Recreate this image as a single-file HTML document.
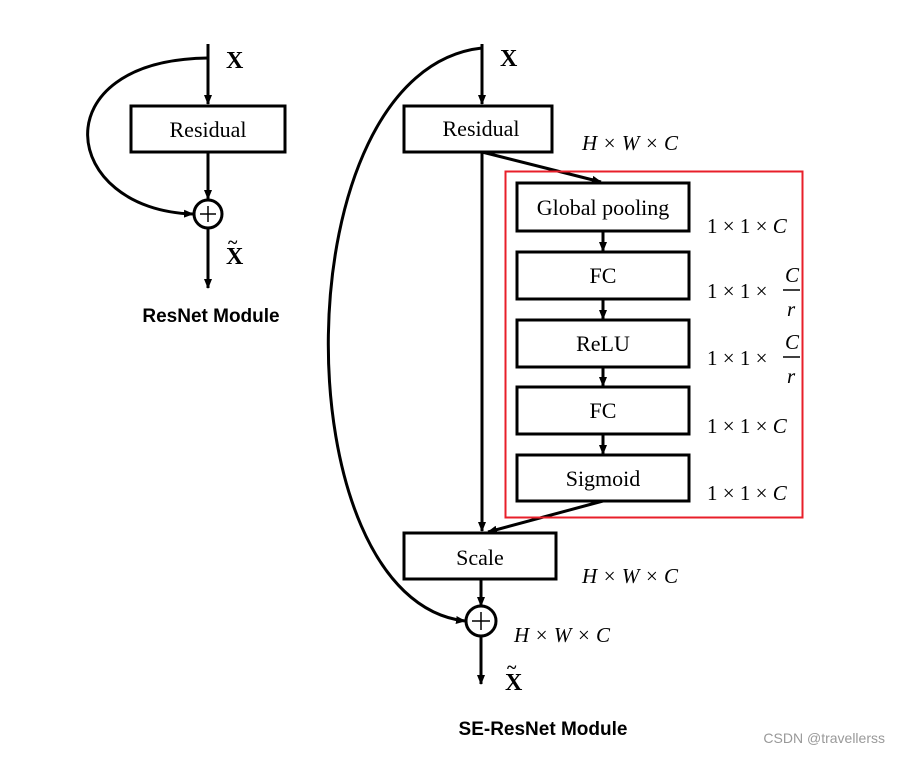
<!DOCTYPE html>
<html><head><meta charset="utf-8"><style>
body{margin:0;background:#fff;width:900px;height:753px;overflow:hidden}
svg text{font-family:"Liberation Serif",serif;fill:#000}
</style></head><body>
<svg width="900" height="753" xmlns="http://www.w3.org/2000/svg">
<defs><marker id="a" markerWidth="10" markerHeight="10" refX="9" refY="5" orient="auto" markerUnits="userSpaceOnUse"><path d="M0,1 L10,5 L0,9 z" fill="#000"/></marker></defs>
<g stroke="#000" stroke-width="3" fill="none">
<!-- left -->
<line x1="208" y1="44" x2="208" y2="104" marker-end="url(#a)"/>
<rect x="131" y="106" width="154" height="46" fill="#fff"/>
<line x1="208" y1="152" x2="208" y2="199" marker-end="url(#a)"/>
<circle cx="208" cy="214" r="14" fill="#fff"/>
<path d="M208,58 C40,60 60,210 193,214" marker-end="url(#a)"/>
<line x1="208" y1="228" x2="208" y2="288" marker-end="url(#a)"/>
<!-- right -->
<line x1="482" y1="44" x2="482" y2="104" marker-end="url(#a)"/>
<rect x="404" y="106" width="148" height="46" fill="#fff"/>
<line x1="482" y1="152" x2="482" y2="531" marker-end="url(#a)"/>
<line x1="482" y1="152" x2="601" y2="182" marker-end="url(#a)"/>
<rect x="517" y="183" width="172" height="48" fill="#fff"/>
<rect x="517" y="252" width="172" height="47" fill="#fff"/>
<rect x="517" y="320" width="172" height="47" fill="#fff"/>
<rect x="517" y="387" width="172" height="47" fill="#fff"/>
<rect x="517" y="455" width="172" height="46" fill="#fff"/>
<line x1="603" y1="231" x2="603" y2="251" marker-end="url(#a)"/>
<line x1="603" y1="299" x2="603" y2="319" marker-end="url(#a)"/>
<line x1="603" y1="367" x2="603" y2="386" marker-end="url(#a)"/>
<line x1="603" y1="434" x2="603" y2="454" marker-end="url(#a)"/>
<line x1="603" y1="501" x2="488" y2="532" marker-end="url(#a)"/>
<rect x="404" y="533" width="152" height="46" fill="#fff"/>
<line x1="481" y1="579" x2="481" y2="606" marker-end="url(#a)"/>
<circle cx="481" cy="621" r="15" fill="#fff"/>
<path d="M482,48 C280,70 280,600 465,621" marker-end="url(#a)"/>
<line x1="481" y1="636" x2="481" y2="684" marker-end="url(#a)"/>
</g>
<rect x="505.5" y="171.5" width="297" height="346" fill="none" stroke="#e81f2a" stroke-width="2"/>
<g stroke="#000" stroke-width="1.5">
<line x1="200" y1="214" x2="216" y2="214"/><line x1="208" y1="206" x2="208" y2="222"/>
<line x1="472" y1="621" x2="490" y2="621"/><line x1="481" y1="612" x2="481" y2="630"/>
</g>
<g font-size="22" text-anchor="middle">
<text x="208" y="137">Residual</text>
<text x="481" y="136">Residual</text>
<text x="603" y="215">Global pooling</text>
<text x="603" y="283">FC</text>
<text x="603" y="351">ReLU</text>
<text x="603" y="418">FC</text>
<text x="603" y="486">Sigmoid</text>
<text x="480" y="565">Scale</text>
</g>
<g font-size="24" font-weight="bold">
<text x="226" y="68">X</text><text x="226" y="264">X</text><text x="228" y="248" font-size="18">~</text>
<text x="500" y="66">X</text><text x="505" y="690">X</text><text x="507" y="673" font-size="18">~</text>
</g>
<g font-size="21">
<text x="582" y="150" font-style="italic">H × W × C</text>
<text x="707" y="233">1 × 1 × <tspan font-style="italic">C</tspan></text>
<text x="707" y="298">1 × 1 ×</text>
<text x="785" y="282" font-style="italic">C</text><text x="787" y="316" font-style="italic">r</text>
<text x="707" y="365">1 × 1 ×</text>
<text x="785" y="349" font-style="italic">C</text><text x="787" y="383" font-style="italic">r</text>
<text x="707" y="433">1 × 1 × <tspan font-style="italic">C</tspan></text>
<text x="707" y="500">1 × 1 × <tspan font-style="italic">C</tspan></text>
<text x="582" y="583" font-style="italic">H × W × C</text>
<text x="514" y="642" font-style="italic">H × W × C</text>
</g>
<line x1="783" y1="290" x2="800" y2="290" stroke="#000" stroke-width="1.5"/>
<line x1="783" y1="357" x2="800" y2="357" stroke="#000" stroke-width="1.5"/>
<g style="font-family:'Liberation Sans',sans-serif" font-weight="bold" font-size="19" text-anchor="middle">
<text x="211" y="322" style="font-family:'Liberation Sans',sans-serif">ResNet Module</text>
<text x="543" y="735" style="font-family:'Liberation Sans',sans-serif">SE-ResNet Module</text>
</g>
<text x="885" y="743" font-size="14" text-anchor="end" style="font-family:'Liberation Sans',sans-serif;fill:#999">CSDN @travellerss</text>
</svg>
</body></html>
